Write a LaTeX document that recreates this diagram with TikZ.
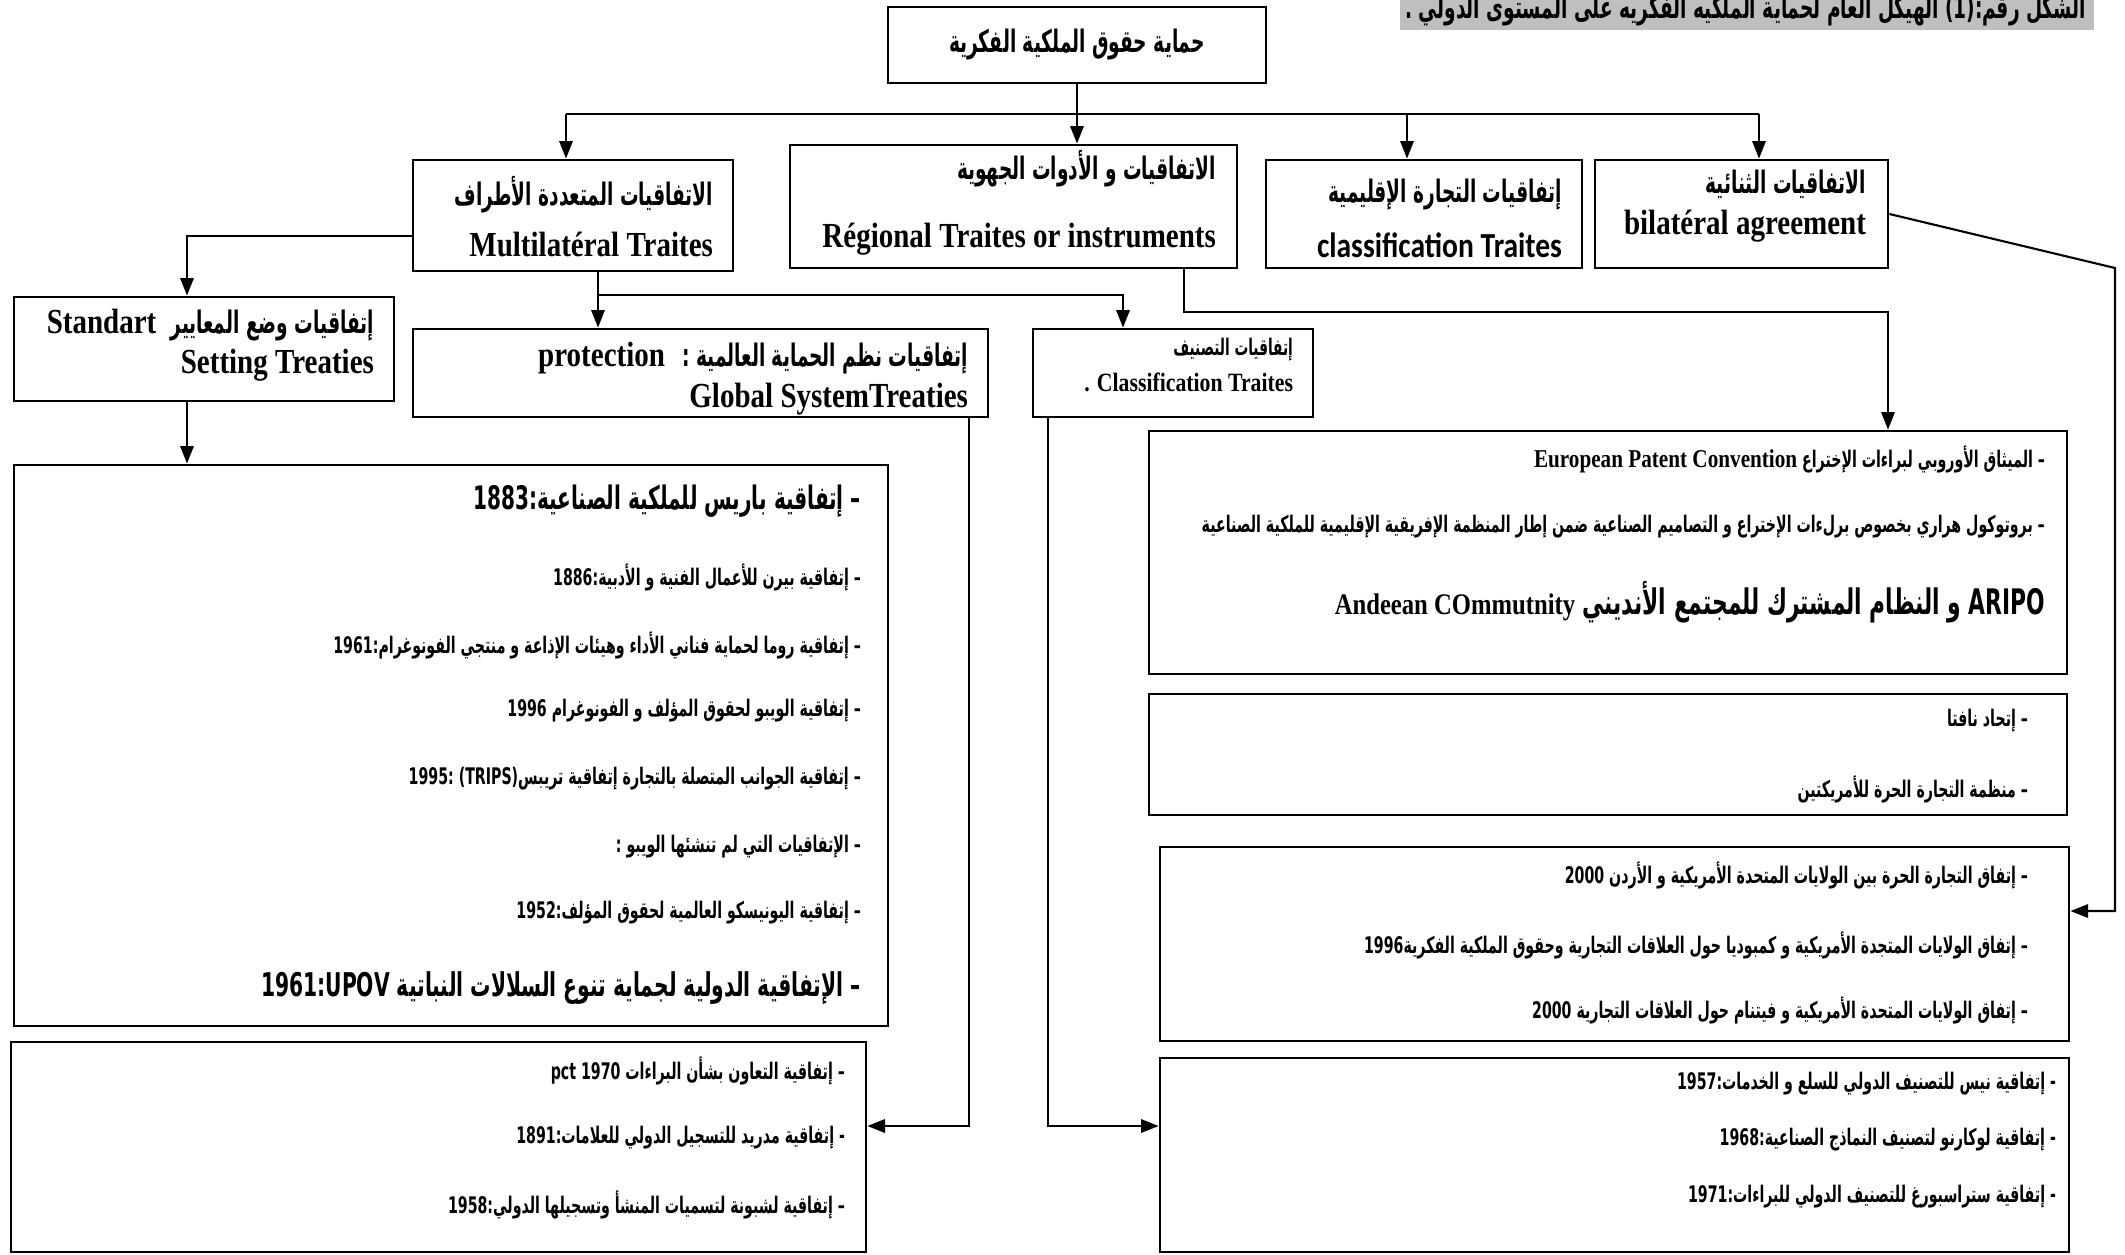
\documentclass[tikz,border=0pt]{standalone}
\usepackage{fontspec}
\usetikzlibrary{arrows.meta,fit}
\TeXXeTstate=1
\newfontfamily\arfont[Script=Arabic,FakeStretch=0.62]{DejaVu Sans}
\newfontfamily\arhfont[Script=Arabic,FakeStretch=0.6]{DejaVu Sans}
\newfontfamily\lafont[FakeStretch=0.825]{Liberation Serif}
\newfontfamily\cafont[FakeStretch=0.84]{Carlito}
\newcommand\lword[1]{{\lafont\fontsize{10}{12}\selectfont#1}}

\begin{document}
\begin{tikzpicture}[x=0.01cm,y=-0.01cm,line width=0.6pt,
  box/.style={draw,line width=0.8pt,inner sep=0pt},
  arr/.style={-{Triangle[length=5pt,width=3.8pt]}},
  txt/.style={inner sep=0pt,anchor=east},
  head/.style={txt,font=\arhfont\bfseries\fontsize{8.8}{10}\selectfont},
  lat/.style={txt,font=\lafont\bfseries\fontsize{10}{12}\selectfont},
  item/.style={txt,font=\arfont\bfseries\fontsize{6.5}{8}\selectfont},
  bigitem/.style={txt,font=\arfont\bfseries\fontsize{9.2}{11}\selectfont}]
\useasboundingbox (0,0) rectangle (2125,1254);

\node[fill=black!25,inner sep=0pt,fit={(1400,-5)(2094,30)}] (cap) {};
\node[head] (captxt) at (2087,11) {\beginR الشكل رقم:\beginL(1)\endL{} الهيكل العام لحماية الملكيه الفكريه على المستوى الدولي .\endR};

\node[box,fit={(888,7)(1266,83)}] (top) {};
\node[head,anchor=center] (toptxt) at (top) {\beginR حماية حقوق الملكية الفكرية\endR};

\node[box,fit={(413,160)(733,271)}] (multi) {};
\node[head] (multiar) at (714,195) {\beginR الاتفاقيات المتعددة الأطراف\endR};
\node[lat] (multila) at (714,244) {Multilatéral Traites};

\node[box,fit={(790,145)(1237,268)}] (reg) {};
\node[head] (regar) at (1217,169) {\beginR الاتفاقيات و الأدوات الجهوية\endR};
\node[lat] (regla) at (1217,239) {Régional Traites or instruments};

\node[box,fit={(1266,160)(1582,268)}] (trade) {};
\node[head] (tradear) at (1563,195) {\beginR إتفاقيات التجارة الإقليمية\endR};
\node[txt,font=\cafont\bfseries\fontsize{10}{12}\selectfont] (tradela) at (1563,245) {classification Traites};

\node[box,fit={(1595,160)(1888,268)}] (bilat) {};
\node[head] (bilatar) at (1867,184) {\beginR الاتفاقيات الثنائية\endR};
\node[lat] (bilatla) at (1867,226) {bilatéral agreement};

\node[box,fit={(14,297)(394,401)}] (std) {};
\node[head] (stdar) at (375,325) {\beginR إتفاقيات وضع المعايير\hspace{4pt}\beginL\lword{Standart}\endL\endR};
\node[lat] (stdla) at (375,365) {Setting Treaties};

\node[box,fit={(413,329)(988,417)}] (glob) {};
\node[head] (globar) at (969,358) {\beginR إتفاقيات نظم الحماية العالمية :\hspace{5pt}\beginL\lword{protection}\endL\endR};
\node[lat] (globla) at (969,399) {Global SystemTreaties};

\node[box,fit={(1033,329)(1313,417)}] (cls) {};
\node[head,font=\arhfont\bfseries\fontsize{6.5}{8}\selectfont] (clsar) at (1294,350) {\beginR إتفاقيات التصنيف\endR};
\node[lat,font=\lafont\bfseries\fontsize{7.5}{9}\selectfont] (clsla) at (1294,382) {. Classification Traites};

\node[box,fit={(14,465)(888,1026)}] (big) {};
\node[bigitem] (b1) at (862,501) {\beginR – إتفاقية باريس للملكية الصناعية:\beginL 1883\endL\endR};
\node[item] (b2) at (862,577) {\beginR – إتفاقية بيرن للأعمال الفنية و الأدبية:\beginL 1886\endL\endR};
\node[item] (b3) at (862,645) {\beginR – إتفاقية روما لحماية فناني الأداء وهيئات الإذاعة و منتجي الفونوغرام:\beginL 1961\endL\endR};
\node[item] (b4) at (862,711) {\beginR – إتفاقية الويبو لحقوق المؤلف و الفونوغرام \beginL 1996\endL\endR};
\node[item] (b5) at (862,779) {\beginR – إتفاقية الجوانب المتصلة بالتجارة إتفاقية تريبس\beginL(TRIPS)\endL{} :\beginL 1995\endL\endR};
\node[item] (b6) at (862,847) {\beginR – الإتفاقيات التي لم تنشئها الويبو :\endR};
\node[item] (b7) at (862,913) {\beginR – إتفاقية اليونيسكو العالمية لحقوق المؤلف:\beginL 1952\endL\endR};
\node[bigitem,font=\arfont\bfseries\fontsize{9.3}{11}\selectfont] (b8) at (862,988) {\beginR – الإتفاقية الدولية لجماية تنوع السلالات النباتية \beginL UPOV\endL:\beginL 1961\endL\endR};

\node[box,fit={(11,1042)(866,1252)}] (low) {};
\node[item] (l1) at (846,1071) {\beginR – إتفاقية التعاون بشأن البراءات \beginL pct 1970\endL\endR};
\node[item] (l2) at (846,1138) {\beginR - إتفاقية مدريد للتسجيل الدولي للعلامات:\beginL 1891\endL\endR};
\node[item] (l3) at (846,1205) {\beginR – إتفاقية لشبونة لتسميات المنشأ وتسجيلها الدولي:\beginL 1958\endL\endR};

\node[box,fit={(1149,431)(2067,674)}] (r1) {};
\node[item] (r1a) at (2046,459) {\beginR – الميثاق الأوروبي لبراءات الإختراع \beginL{\lafont\fontsize{7.3}{9}\selectfont European Patent Convention}\endL\endR};
\node[item] (r1b) at (2046,527) {\beginR – بروتوكول هراري بخصوص برلءات الإختراع و التصاميم الصناعية ضمن إطار المنظمة الإفريقية الإقليمية للملكية الصناعية\endR};
\node[bigitem,font=\arfont\bfseries\fontsize{10}{12}\selectfont] (r1c) at (2046,602) {\beginR\beginL ARIPO\endL{} و النظام المشترك للمجتمع الأنديني \beginL{\lafont\fontsize{8.5}{10}\selectfont Andeean COmmutnity}\endL\endR};

\node[box,fit={(1149,694)(2067,815)}] (r2) {};
\node[item] (r2a) at (2029,721) {\beginR – إتحاد نافتا\endR};
\node[item] (r2b) at (2029,789) {\beginR – منظمة التجارة الحرة للأمريكتين\endR};

\node[box,fit={(1160,847)(2069,1041)}] (r3) {};
\node[item] (r3a) at (2029,875) {\beginR – إتفاق التجارة الحرة بين الولايات المتحدة الأمريكية و الأردن \beginL 2000\endL\endR};
\node[item] (r3b) at (2029,945) {\beginR – إتفاق الولايات المتجدة الأمريكية و كمبوديا حول العلاقات التجارية وحقوق الملكية الفكرية\beginL 1996\endL\endR};
\node[item] (r3c) at (2029,1010) {\beginR – إتفاق الولايات المتحدة الأمريكية و فيتنام حول العلاقات التجارية \beginL 2000\endL\endR};

\node[box,fit={(1160,1058)(2069,1252)}] (r4) {};
\node[item] (r4a) at (2057,1084) {\beginR - إتفاقية نيس للتصنيف الدولي للسلع و الخدمات:\beginL 1957\endL\endR};
\node[item] (r4b) at (2057,1140) {\beginR - إتفاقية لوكارنو لتصنيف النماذج الصناعية:\beginL 1968\endL\endR};
\node[item] (r4c) at (2057,1197) {\beginR - إتفاقية ستراسبورغ للتصنيف الدولي للبراءات:\beginL 1971\endL\endR};

\coordinate (bus) at (1077,114);
\coordinate (busl) at (566,114);
\coordinate (bust) at (1407,114);
\coordinate (busr) at (1759,114);
\draw (top.south) -- (bus);
\draw (busl) -- (busr);
\draw[arr] (busl) -- (busl |- multi.north);
\draw[arr] (bus) -- (bus |- reg.north);
\draw[arr] (bust) -- (bust |- trade.north);
\draw[arr] (busr) -- (busr |- bilat.north);

\coordinate (ms) at (187,236);
\draw[arr] (ms -| multi.west) -- (ms) -- (ms |- std.north);
\draw[arr] (ms |- std.south) -- (ms |- big.north);
\coordinate (mb) at (598,295);
\coordinate (cb) at (1123,295);
\draw[arr] (mb |- multi.south) -- (mb |- glob.north);
\draw[arr] (mb) -- (cb) -- (cb |- cls.north);
\coordinate (rb) at (1184,312);
\coordinate (rr) at (1888,312);
\draw[arr] (rb |- reg.south) -- (rb) -- (rr) -- (rr |- r1.north);
\coordinate (bd) at (2115,268);
\coordinate (bd2) at (2115,911);
\draw[arr] (bilat.east) -- (bd) -- (bd2) -- (bd2 -| r3.east);
\coordinate (gd) at (969,1126);
\draw[arr] (gd |- glob.south) -- (gd) -- (gd -| low.east);
\coordinate (cd) at (1048,1126);
\draw[arr] (cd |- cls.south) -- (cd) -- (cd -| r4.west);
\end{tikzpicture}
\end{document}
